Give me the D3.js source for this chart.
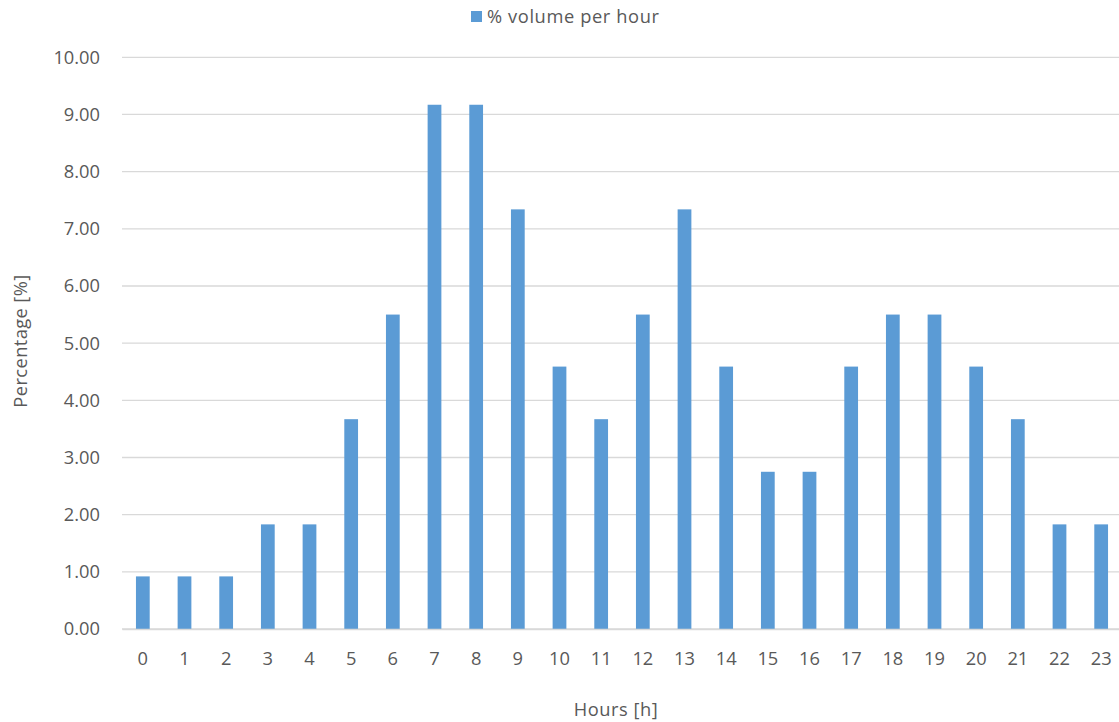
<!DOCTYPE html>
<html>
<head>
<meta charset="utf-8">
<script src="https://cdn.jsdelivr.net/npm/d3@7"></script>
<style>
  html, body { margin: 0; padding: 0; background: #fff; }
  svg { display: block; }
  text { font-family: "Open Sans", "Noto Sans", sans-serif; fill: #595959; }
</style>
</head>
<body>
<svg id="chart" width="1119" height="722"></svg>
<script>
// Hourly traffic share
const hours = ["0","1","2","3","4","5","6","7","8","9","10","11","12","13","14","15","16","17","18","19","20","21","22","23"];
const volumePct = [0.92, 0.92, 0.92, 1.83, 1.83, 3.67, 5.50, 9.17, 9.17, 7.34, 4.59, 3.67,
                   5.50, 7.34, 4.59, 2.75, 2.75, 4.59, 5.50, 5.50, 4.59, 3.67, 1.83, 1.83];
const yTicks = [0, 1, 2, 3, 4, 5, 6, 7, 8, 9, 10];
const seriesName = "% volume per hour";
const xTitle = "Hours [h]";
const yTitle = "Percentage [%]";

const svg = d3.select("#chart");
const plot = { left: 122, right: 1122, top: 57.3, bottom: 629 };
const fontSize = 18.3;

const x = d3.scaleBand().domain(hours).range([plot.left, plot.right]).paddingInner(0.67).paddingOuter(0.335);
const y = d3.scaleLinear().domain([0, 10]).range([plot.bottom, plot.top]);

// horizontal gridlines
svg.append("g").selectAll("line").data(yTicks).join("line")
  .attr("x1", plot.left).attr("x2", plot.right)
  .attr("y1", d => y(d)).attr("y2", d => y(d))
  .attr("stroke", "#d9d9d9").attr("stroke-width", 1.3);

// bars
svg.append("g").selectAll("rect").data(volumePct).join("rect")
  .attr("x", (d, i) => x(hours[i]))
  .attr("width", x.bandwidth())
  .attr("y", d => y(d))
  .attr("height", d => y(0) - y(d))
  .attr("fill", "#5b9bd5");

// y axis labels
const yAxis = d3.axisLeft(y).tickValues(yTicks).tickFormat(d3.format(".2f")).tickSize(0).tickPadding(22);
svg.append("g").attr("transform", `translate(${plot.left},0)`).call(yAxis)
  .call(g => g.select(".domain").remove())
  .call(g => g.selectAll("text").attr("font-size", fontSize).attr("fill", "#595959").attr("font-family", "'Open Sans', sans-serif"));

// x axis labels
const xAxis = d3.axisBottom(x).tickSize(0).tickPadding(23);
svg.append("g").attr("transform", `translate(0,${plot.bottom})`).call(xAxis)
  .call(g => g.select(".domain").attr("stroke", "#d9d9d9").attr("stroke-width", 1.3))
  .call(g => g.selectAll("text").attr("font-size", fontSize).attr("fill", "#595959").attr("font-family", "'Open Sans', sans-serif"));

// axis titles
svg.append("text").attr("x", 616).attr("y", 716).attr("text-anchor", "middle")
  .attr("font-size", fontSize).attr("letter-spacing", 0.5).text(xTitle);
svg.append("text").attr("transform", "translate(27,341) rotate(-90)").attr("text-anchor", "middle")
  .attr("font-size", fontSize).attr("letter-spacing", 0.4).text(yTitle);

// legend
const lg = svg.append("g");
lg.append("rect").attr("x", 471).attr("y", 11).attr("width", 11).attr("height", 11).attr("fill", "#5b9bd5");
lg.append("text").attr("x", 487).attr("y", 23).attr("font-size", fontSize).attr("letter-spacing", 0.6).text(seriesName);
</script>
</body>
</html>
